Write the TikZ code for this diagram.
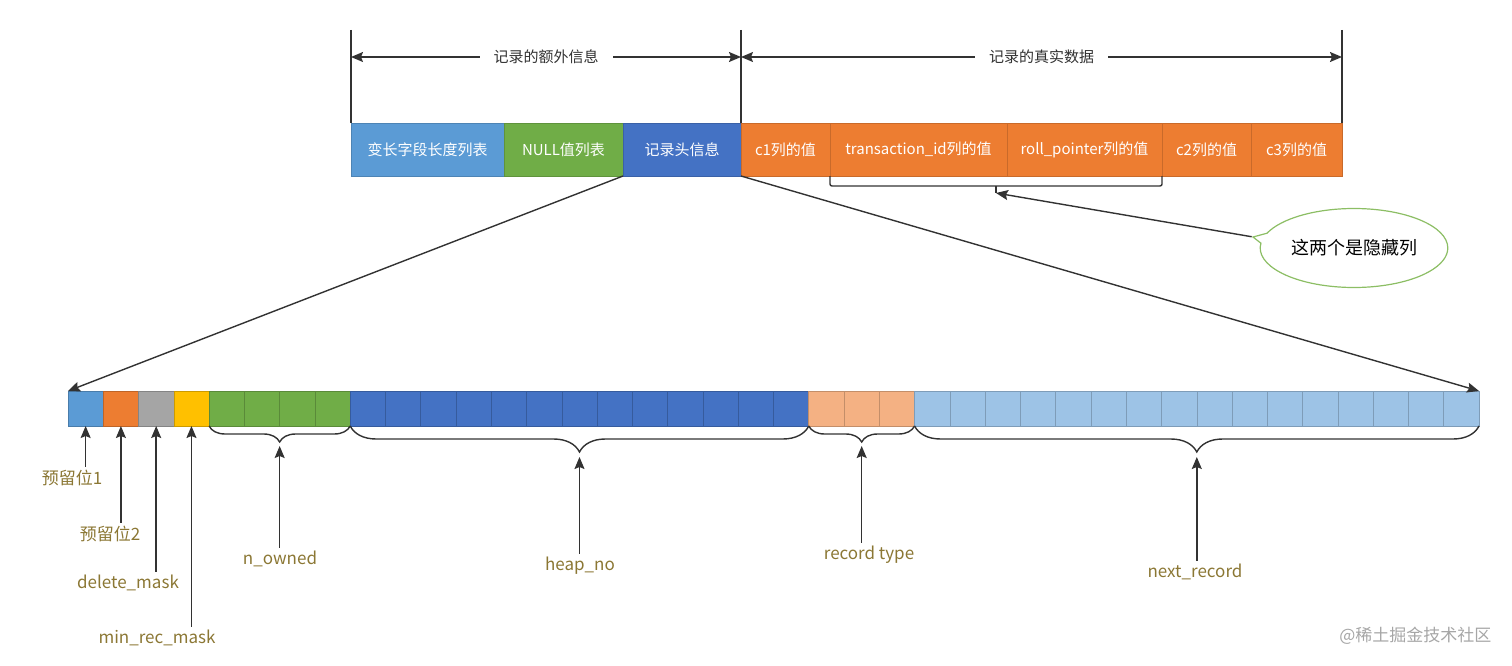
\documentclass[tikz,border=0pt]{standalone}
\usepackage{fontspec}
\setmainfont{Noto Sans CJK SC}
\usepackage{tikz}
\usetikzlibrary{positioning, arrows.meta, calc, shapes.callouts, decorations.pathreplacing}
\definecolor{varblue}{RGB}{91,155,213}
\definecolor{nullgreen}{RGB}{112,173,71}
\definecolor{hdrblue}{RGB}{68,114,196}
\definecolor{colorange}{RGB}{237,125,49}
\definecolor{bitgray}{RGB}{165,165,165}
\definecolor{bityellow}{RGB}{255,192,0}
\definecolor{bitsalmon}{RGB}{244,177,131}
\definecolor{bitsky}{RGB}{157,195,230}
\definecolor{lblgold}{RGB}{139,119,52}
\definecolor{bubgreen}{RGB}{140,190,100}
\definecolor{inkgray}{RGB}{50,50,50}
\tikzset{>={Stealth[length=12pt,width=10pt,inset=2pt]},
  seg/.style={fill=#1, draw=#1!85!black, line width=0.6pt, inner sep=0pt, outer sep=0pt,
    minimum height=53pt, text=white, font=\fontsize{15}{18}\selectfont},
  bit/.style={fill=#1, draw=#1!80!black, line width=0.6pt, inner sep=0pt, outer sep=0pt,
    minimum width=35.275pt, minimum height=35pt, anchor=north west},
  guide/.style={draw=inkgray, line width=1.4pt},
  dimlbl/.style={fill=white, inner xsep=14pt, text=inkgray, font=\fontsize{15}{18}\selectfont},
  lbl/.style={text=lblgold, font=\fontsize{17}{20}\selectfont}}
\begin{document}
\begin{tikzpicture}[x=1pt,y=-1pt]
\useasboundingbox (0,0) rectangle (1512,666);
% record
\node[seg=varblue, minimum width=153pt, anchor=north west] (varlen) at (351,123) {变长字段长度列表};
\node[seg=nullgreen, minimum width=119pt, right=0pt of varlen] (nulls) {NULL值列表};
\node[seg=hdrblue, minimum width=118pt, right=0pt of nulls] (hdr) {记录头信息};
\node[seg=colorange, minimum width=89pt, right=0pt of hdr] (c1) {c1列的值};
\node[seg=colorange, minimum width=177pt, right=0pt of c1] (trx) {transaction\_id列的值};
\node[seg=colorange, minimum width=155pt, right=0pt of trx] (roll) {roll\_pointer列的值};
\node[seg=colorange, minimum width=89pt, right=0pt of roll] (c2) {c2列的值};
\node[seg=colorange, minimum width=91pt, right=0pt of c2] (c3) {c3列的值};

% dimension lines
\coordinate (topy) at (0,30);
\coordinate (dimy) at (0,57);
\draw[guide] (varlen.north west |- topy) -- (varlen.north west);
\draw[guide] (hdr.north east |- topy) -- (hdr.north east);
\draw[guide] (c3.north east |- topy) -- (c3.north east);
\draw[guide, <->] (varlen.north west |- dimy) -- node[dimlbl] {记录的额外信息} (hdr.north east |- dimy);
\draw[guide, <->] (hdr.north east |- dimy) -- node[dimlbl] {记录的真实数据} (c3.north east |- dimy);

% hidden columns
\draw[guide, rounded corners=2pt] (trx.south west) -- ++(0,10) -| (roll.south east);
\coordinate (hidmid) at ($(trx.south west)!.5!(roll.south east)+(0,10)$);
\draw[guide] (hidmid) -- ++(0,7) coordinate (hidend);
\node[ellipse callout, draw=bubgreen, line width=1.2pt, fill=white, minimum width=180pt, minimum height=79pt,
  callout absolute pointer={(1253,237)}, font=\fontsize{18}{21}\selectfont] (hidden) at (1354,248) {这两个是隐藏列};
\draw[guide, ->] (hidden.pointer) -- (hidend);

% header bits
\foreach \a/\b/\col in {1/1/varblue, 2/2/colorange, 3/3/bitgray, 4/4/bityellow,
    5/8/nullgreen, 9/21/hdrblue, 22/24/bitsalmon, 25/40/bitsky}
  \foreach \i in {\a,...,\b}
    \node[bit=\col] (b\i) at ({68+35.275*(\i-1)},391) {};

\draw[guide, ->] (hdr.south west) -- (b1.north west);
\draw[guide, ->] (hdr.south east) -- (b40.north east);

% braces
\draw[guide, decorate, decoration={brace, mirror, amplitude=16pt}] (b5.south west) -- (b8.south east);
\draw[guide, decorate, decoration={brace, mirror, amplitude=26pt}] (b9.south west) -- (b21.south east);
\draw[guide, decorate, decoration={brace, mirror, amplitude=16pt}] (b22.south west) -- (b24.south east);
\draw[guide, decorate, decoration={brace, mirror, amplitude=26pt}] (b25.south west) -- (b40.south east);
\coordinate (owntip) at ($(b5.south west)!.5!(b8.south east)+(0,20)$);
\coordinate (heaptip) at ($(b9.south west)!.5!(b21.south east)+(0,31)$);
\coordinate (typetip) at ($(b22.south west)!.5!(b24.south east)+(0,20)$);
\coordinate (nexttip) at ($(b25.south west)!.5!(b40.south east)+(0,31)$);

% labels
\node[lbl] (rsv1) at (72,478) {预留位1};
\node[lbl] (rsv2) at (110,534) {预留位2};
\node[lbl] (delm) at (128,583) {delete\_mask};
\node[lbl] (minm) at (157,638) {min\_rec\_mask};
\node[lbl] (nown) at (280,559) {n\_owned};
\node[lbl] (heap) at (580,566) {heap\_no};
\node[lbl] (rtype) at (869,555) {record type};
\node[lbl] (nrec) at (1195,572) {next\_record};

\draw[guide, ->] (b1.south |- rsv1.north) -- (b1.south);
\draw[guide, ->] (b2.south |- rsv2.north) -- (b2.south);
\draw[guide, ->] (b3.south |- delm.north) -- (b3.south);
\draw[guide, ->] (b4.south |- minm.north) -- (b4.south);
\draw[guide, ->] (owntip |- nown.north) -- (owntip);
\draw[guide, ->] (heaptip |- heap.north) -- (heaptip);
\draw[guide, ->] (typetip |- rtype.north) -- (typetip);
\draw[guide, ->] (nexttip |- nrec.north) -- (nexttip);

\node[anchor=east, text=black!35, font=\fontsize{17}{20}\selectfont] (mark) at (1495,636) {@稀土掘金技术社区};
\end{tikzpicture}
\end{document}
